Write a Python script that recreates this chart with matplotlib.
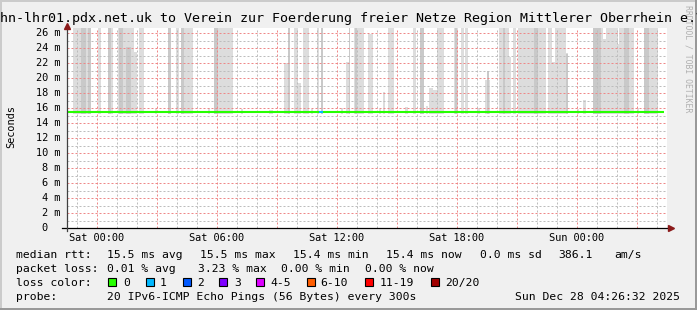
import matplotlib
matplotlib.use("Agg")
import matplotlib.pyplot as plt
from matplotlib.patches import Rectangle

W, H = 697, 310
MONO = "DejaVu Sans Mono"

# smoke bars: hours from Sat 00:00, upper value in ms, shade level
smoke_start = [-1.20, -0.82, -0.55, -0.45, 0.03, 0.53, 0.70, 1.03, 1.08, 1.28, 1.45, 1.87,
               2.10, 3.53, 3.95, 4.20, 4.35, 5.83, 6.03, 9.37, 9.53, 9.85, 10.03, 10.28,
               10.98, 11.20, 12.45, 12.58, 12.85, 12.90, 13.55, 14.30, 14.55, 15.78, 16.17,
               16.60, 16.78, 17.00, 17.85, 17.90, 18.18, 18.40, 19.40, 19.48, 20.08, 20.28,
               20.42, 20.58, 20.78, 21.03, 21.85, 22.53, 22.75, 22.88, 23.45, 23.45, 24.30,
               24.80, 25.20, 25.32, 25.45, 26.03, 26.12, 26.37, 26.62, 27.33, 27.62, 27.82,
               2.90, 5.55, 7.20, 8.60, 10.70, 12.20, 14.10, 15.40, 16.45, 19.00, 22.30,
               24.00, 27.00]
smoke_end = [-0.82, -0.55, -0.45, -0.30, 0.20, 0.70, 0.82, 1.08, 1.28, 1.87, 1.70, 2.00,
             2.35, 3.70, 4.08, 4.35, 4.82, 6.03, 6.78, 9.53, 9.65, 10.03, 10.20, 10.58,
             11.08, 11.28, 12.58, 12.63, 13.35, 12.98, 13.80, 14.40, 14.85, 15.95, 16.33,
             16.78, 16.98, 17.37, 18.03, 17.98, 18.37, 18.55, 19.65, 19.58, 20.28, 20.42,
             20.58, 20.70, 20.95, 22.45, 22.03, 22.75, 22.88, 23.45, 23.55, 23.53, 24.45,
             25.20, 25.32, 25.45, 26.03, 26.12, 26.37, 26.62, 26.87, 27.62, 27.82, 28.03,
             3.00, 5.65, 7.30, 8.80, 10.80, 12.30, 14.20, 15.55, 16.55, 19.15, 22.40,
             24.10, 27.10]
smoke_top = [27, 27, 27, 27, 27, 27, 27, 27, 27, 27, 24.2, 23.5,
             27, 27, 27, 27, 27, 27, 27, 22.0, 27, 27, 19.4, 27,
             27, 27, 22.2, 27, 27, 27, 25.9, 18.2, 27, 27, 27,
             18.7, 18.4, 27, 27, 27, 27, 27, 19.8, 21.0, 27, 27,
             27, 22.8, 27, 27, 27, 27, 22.2, 27, 23.4, 23.2, 17.1,
             27, 27, 25.2, 27, 24.6, 27, 27, 27, 27, 27, 27,
             15.9, 16.0, 15.9, 15.8, 15.9, 16.0, 15.9, 16.2, 16.3, 16.0, 16.0,
             15.9, 16.0]
smoke_shade = [0, 1, 0, 1, 0, 1, 0, 0, 1, 0, 1, 0,
               0, 1, 0, 1, 0, 1, 0, 0, 1, 0, 0, 0,
               0, 1, 0, 1, 0, 1, 0, 0, 0, 0, 1,
               0, 0, 0, 0, 1, 0, 0, 0, 1, 0, 1,
               0, 0, 0, 0, 1, 0, 0, 0, 0, 1, 0,
               1, 0, 0, 0, 0, 0, 1, 0, 1, 0, 0,
               0, 0, 0, 0, 0, 0, 0, 0, 0, 0, 0,
               0, 0]
smoke_floor = 15.2
shade_colors = ["#dddddd", "#c9c9c9"]

# median rtt segments and their loss bucket
median_start = [-1.5, 11.10, 11.30]
median_end = [11.10, 11.30, 28.33]
median_val = [15.5, 15.5, 15.5]
median_loss = [0, 1, 0]

loss_labels = ["0", "1", "2", "3", "4-5", "6-10", "11-19", "20/20"]
loss_colors = ["#26ff00", "#00b8ff", "#0059ff", "#7e00ff", "#dd00ff", "#ff5e00", "#ff0000", "#a10000"]
loss_box_x = [108, 146, 183, 219, 256, 307, 365, 431]
loss_text_x = [123, 160, 197, 234, 270, 320, 380, 445]

xtick_hours = [0, 6, 12, 18, 24]
xtick_labels = ["Sat 00:00", "Sat 06:00", "Sat 12:00", "Sat 18:00", "Sun 00:00"]
ytick_vals = list(range(0, 27, 2))

title = "hn-lhr01.pdx.net.uk to Verein zur Foerderung freier Netze Region Mittlerer Oberrhein e.V."

fig = plt.figure(figsize=(W / 100, H / 100), dpi=100, facecolor="#f0f0f0")


def P(x, y):
    return x / W, 1 - y / H


def ftext(x, y, s, **kw):
    kw.setdefault("family", MONO)
    kw.setdefault("color", "black")
    fig.text(*P(x, y), s, **kw)


# frame shades
fig.add_artist(Rectangle((0, 1 - 2 / H), 1, 2 / H, transform=fig.transFigure, fc="#cbcbcb", ec="none"))
fig.add_artist(Rectangle((0, 0), 2 / W, 1, transform=fig.transFigure, fc="#cbcbcb", ec="none"))
fig.add_artist(Rectangle((0, 0), 1, 2 / H, transform=fig.transFigure, fc="#999999", ec="none"))
fig.add_artist(Rectangle((1 - 2 / W, 0), 2 / W, 1, transform=fig.transFigure, fc="#999999", ec="none"))

ax = fig.add_axes([67 / W, 82 / H, 600 / W, 200 / H])
ax.set_facecolor("white")
ax.set_xlim(-1.5, 28.5)
ax.set_ylim(0, 200 / 7.486)
for s in ax.spines.values():
    s.set_visible(False)
ax.set_xticks([])
ax.set_yticks([])

# smoke
for level in (0, 1):
    for s0, s1, top, sh in zip(smoke_start, smoke_end, smoke_top, smoke_shade):
        if sh == level:
            ax.bar(s0, top - smoke_floor, width=s1 - s0, bottom=smoke_floor, align="edge",
                   color=shade_colors[sh], linewidth=0, zorder=1)

# grid on top of smoke, small dots
dots = (0, (2, 2))
for h in range(-1, 29):
    if h % 3 != 0:
        ax.axvline(h, color="#bdbdbd", lw=0.72, ls=dots, zorder=2)
for v in range(1, 27):
    if v % 2 != 0:
        ax.axhline(v, color="#bdbdbd", lw=0.72, ls=dots, zorder=2)
for h in range(0, 28, 3):
    ax.axvline(h, color="#ee8888", lw=0.72, ls=dots, zorder=3)
for v in range(2, 27, 2):
    ax.axhline(v, color="#ee8888", lw=0.72, ls=dots, zorder=3)

# median line
for m0, m1, mv, ml in zip(median_start, median_end, median_val, median_loss):
    ax.hlines(mv, m0, m1, color=loss_colors[ml], lw=1.5, zorder=4)

# axes with arrows
ax.plot([-1.75, 28.55], [0, 0], color="black", lw=0.9, clip_on=False, zorder=5)
ax.plot([-1.5, -1.5], [-0.4, 26.9], color="#404040", lw=0.9, clip_on=False, zorder=5)
ax.plot([-1.5], [26.95], marker="^", ms=4.5, color="#8b1a1a", clip_on=False, zorder=6)
ax.plot([28.7], [0], marker=">", ms=4.5, color="#8b1a1a", clip_on=False, zorder=6)

# tick labels
for h, lab in zip(xtick_hours, xtick_labels):
    ax.text(h, -13 / 200, lab, transform=ax.get_xaxis_transform(), ha="center", va="baseline",
            family=MONO, fontsize=7.4)
for v in ytick_vals:
    if v == 0:
        ax.text(-19 / 600, v, "0", transform=ax.get_yaxis_transform(), ha="right", va="center",
                family=MONO, fontsize=7.4)
    else:
        ax.text(-7 / 600, v, f"{v} m", transform=ax.get_yaxis_transform(), ha="right", va="center",
                family=MONO, fontsize=7.4)

ftext(11, 127, "Seconds", rotation=90, ha="center", va="center", fontsize=7.4)
ftext(688, 59, "RRDTOOL / TOBI OETIKER", rotation=-90, ha="center", va="center", fontsize=5.9,
      color="#b0b0b0")
ftext(0, 22, title, ha="left", va="baseline", fontsize=9.6)

# legend
fs = 8.2
ftext(16, 258, "median rtt:", fontsize=fs, va="baseline")
for x, s in [(107, "15.5 ms avg"), (200, "15.5 ms max"), (293, "15.4 ms min"),
             (386, "15.4 ms now"), (480, "0.0 ms sd"), (558, "386.1"), (614, "am/s")]:
    ftext(x, 258, s, fontsize=fs, va="baseline")
ftext(16, 272, "packet loss:", fontsize=fs, va="baseline")
for x, s in [(107, "0.01 % avg"), (198, "3.23 % max"), (281, "0.00 % min"), (365, "0.00 % now")]:
    ftext(x, 272, s, fontsize=fs, va="baseline")
ftext(16, 286, "loss color:", fontsize=fs, va="baseline")
for bx, tx, lab, col in zip(loss_box_x, loss_text_x, loss_labels, loss_colors):
    fig.add_artist(Rectangle(P(bx, 286), 8 / W, 8 / H, transform=fig.transFigure,
                             fc=col, ec="black", lw=0.8))
    ftext(tx, 286, lab, fontsize=fs, va="baseline")
ftext(16, 300, "probe:", fontsize=fs, va="baseline")
ftext(107, 300, "20 IPv6-ICMP Echo Pings (56 Bytes) every 300s", fontsize=fs, va="baseline")
ftext(680, 300, "Sun Dec 28 04:26:32 2025", fontsize=fs, va="baseline", ha="right")

fig.savefig("out.png", dpi=100, facecolor=fig.get_facecolor())
